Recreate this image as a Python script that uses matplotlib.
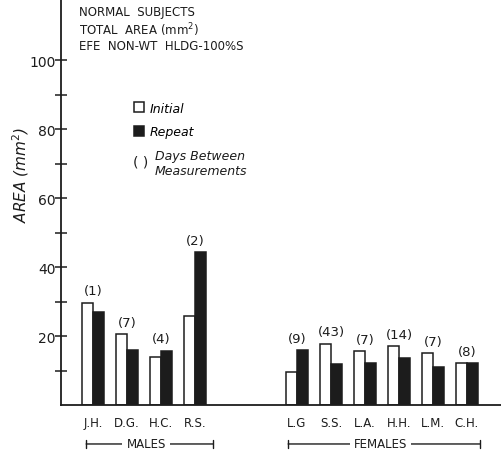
import matplotlib
matplotlib.use('Agg')
import matplotlib.pyplot as plt
import numpy as np

# subjects, males first then females
subjects = ["J.H.", "D.G.", "H.C.", "R.S.", "L.G", "S.S.", "L.A.", "H.H.", "L.M.", "C.H."]
initial = [29.6, 20.5, 14.0, 25.9, 9.7, 17.8, 15.6, 17.0, 15.0, 12.1]
repeat = [26.9, 15.9, 15.7, 44.3, 15.9, 11.9, 12.1, 13.6, 10.9, 12.1]
days = ["(1)", "(7)", "(4)", "(2)", "(9)", "(43)", "(7)", "(14)", "(7)", "(8)"]
positions = [0, 1, 2, 3, 6, 7, 8, 9, 10, 11]

plt.rcParams['font.family'] = ['DejaVu Sans']
INK = '#1c1c1c'

fig = plt.figure(figsize=(5.01, 4.56), dpi=100, facecolor='white')
ax = fig.add_axes([61 / 501, 50 / 456, 440 / 501, 406 / 456])

x = np.array(positions, dtype=float)
w = 0.31
b1 = ax.bar(x - w / 2, initial, w, color='white', edgecolor=INK, linewidth=1.1, label='Initial')
b2 = ax.bar(x + w / 2, repeat, w, color=INK, edgecolor=INK, linewidth=1.1, label='Repeat')

for xi, a, r, d in zip(x, initial, repeat, days):
    ax.annotate(d, (xi, max(a, r)), xytext=(0, 4), textcoords='offset points',
                ha='center', va='bottom', fontsize=9.5, color=INK)

ax.set_xlim(-0.94, 12.0)
ax.set_ylim(0, 117.7)
ax.set_yticks([20, 40, 60, 80, 100])
ax.set_yticks([10, 30, 50, 70, 90], minor=True)
ax.tick_params(axis='y', which='both', direction='inout', length=8, width=1.1,
               colors=INK, labelsize=10, pad=0)
ax.set_xticks(x)
ax.set_xticklabels(subjects, fontsize=8.5, color=INK)
ax.tick_params(axis='x', length=0, pad=8)
for s in ['top', 'right']:
    ax.spines[s].set_visible(False)
for s in ['left', 'bottom']:
    ax.spines[s].set_linewidth(1.3)
    ax.spines[s].set_color(INK)

ax.set_ylabel("AREA (mm$^2$)", fontsize=11, style='italic', color=INK)
ax.yaxis.set_label_coords(-0.068, 0.57)

# header text
ax.text(0.04, 0.985, "NORMAL  SUBJECTS\nTOTAL  AREA (mm$^2$)\nEFE  NON-WT  HLDG-100%S",
        transform=ax.transAxes, ha='left', va='top', fontsize=8.5, color=INK,
        linespacing=1.15)

# legend
ax.legend(handles=[b1, b2], loc='upper left', bbox_to_anchor=(0.14, 0.775),
          frameon=False, handlelength=0.8, handleheight=0.9,
          handletextpad=0.5, labelspacing=0.85, prop={'style': 'italic', 'size': 9})
ax.text(0.163, 0.6, "( )", transform=ax.transAxes, fontsize=10, va='center', color=INK)
ax.text(0.213, 0.597, "Days Between\nMeasurements", transform=ax.transAxes, fontsize=9,
        style='italic', va='center', color=INK, linespacing=1.2)

# group brackets below the axis
for x0, x1, name in [(-0.2, 3.53, "MALES"), (5.74, 11.38, "FEMALES")]:
    yb = -11.3
    ax.annotate('', xy=(x0, yb), xytext=(x1, yb), annotation_clip=False,
                arrowprops=dict(arrowstyle='|-|, widthA=0.3, widthB=0.3', color=INK, lw=1.0,
                                shrinkA=0, shrinkB=0))
    ax.text((x0 + x1) / 2 - 0.1, yb, name, ha='center', va='center', fontsize=8.5,
            color=INK, clip_on=False,
            bbox=dict(facecolor='white', edgecolor='none', pad=3))

fig.savefig("out.png", dpi=100, facecolor='white')
